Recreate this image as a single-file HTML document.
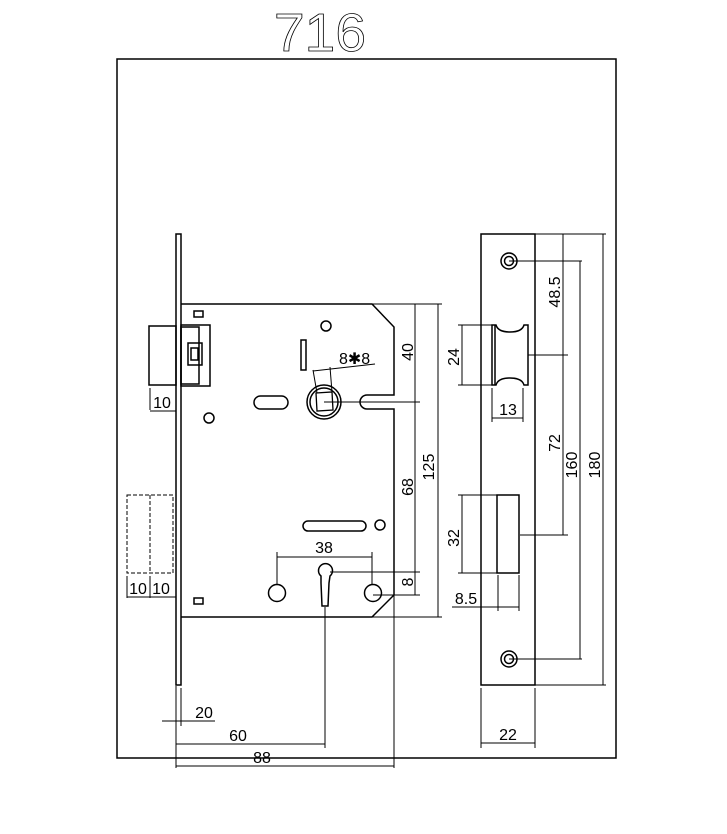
<!DOCTYPE html>
<html><head><meta charset="utf-8"><style>body{margin:0;background:#fff}svg{display:block}</style></head><body>
<svg width="727" height="834" viewBox="0 0 727 834" xmlns="http://www.w3.org/2000/svg" font-family="Liberation Sans, sans-serif">
<rect width="727" height="834" fill="#fff"/>
<text x="320" y="51" font-size="54" text-anchor="middle" fill="none" stroke="#000" stroke-width="0.8" textLength="92" lengthAdjust="spacingAndGlyphs">716</text>
<g fill="none" stroke="#000" stroke-width="1.5">
<rect x="117" y="59" width="499" height="699"/>
<rect x="176" y="234" width="5" height="451"/>
<path d="M181 304 H372 L394 327 V395 H367 A7 7 0 0 0 367 409 H394 V595 L372 617 H181"/>
<rect x="149" y="326" width="27" height="59"/>
<rect x="181" y="325" width="29" height="61"/>
<rect x="181" y="327" width="18" height="57"/>
<rect x="188" y="343" width="14" height="22"/>
<rect x="191" y="348" width="7" height="12"/>
<g stroke-dasharray="4 2" stroke-width="1">
<rect x="127" y="495" width="46" height="78"/>
<line x1="150" y1="495" x2="150" y2="573"/>
</g>
<rect x="194" y="311" width="9" height="6"/>
<rect x="194" y="598" width="9" height="6"/>
<circle cx="326" cy="326" r="5"/>
<circle cx="209" cy="418" r="5"/>
<circle cx="380" cy="525" r="5"/>
<rect x="301" y="340" width="5" height="30"/>
<rect x="254" y="396" width="34" height="13" rx="6.5"/>
<rect x="303" y="521" width="63" height="10" rx="5"/>
<circle cx="324" cy="402" r="17"/>
<circle cx="324" cy="402" r="14"/>
<path d="M316 393 L332 392 L333 410 L317 411 Z" stroke-width="1.3"/>
<circle cx="277" cy="593" r="8.5"/>
<circle cx="373" cy="593" r="8.5"/>
<path d="M321 576 A7 7 0 1 1 330 576 L329 583 L328 606 H322 L321 583 Z"/>
</g>
<g fill="none" stroke="#000" stroke-width="1">
<line x1="324" y1="402" x2="420" y2="402"/>
<line x1="317" y1="393" x2="313" y2="370"/><line x1="332" y1="392" x2="330" y2="367"/>
<line x1="313" y1="371" x2="375" y2="364"/>
<line x1="372" y1="304" x2="442" y2="304"/>
<line x1="372" y1="617" x2="442" y2="617"/>
<line x1="330" y1="572" x2="420" y2="572"/>
<line x1="373" y1="595" x2="420" y2="595"/>
<line x1="415" y1="304" x2="415" y2="595"/>
<line x1="438" y1="304" x2="438" y2="617"/>
<line x1="277" y1="585" x2="277" y2="552"/><line x1="372" y1="585" x2="372" y2="552"/>
<line x1="277" y1="557" x2="372" y2="557"/>
<line x1="150" y1="388" x2="150" y2="410"/><line x1="150" y1="411" x2="176" y2="411"/>
<line x1="127" y1="576" x2="127" y2="598"/><line x1="150" y1="576" x2="150" y2="598"/>
<line x1="127" y1="597" x2="176" y2="597"/>
<line x1="176" y1="686" x2="176" y2="768"/>
<line x1="181" y1="688" x2="181" y2="726"/>
<line x1="325" y1="607" x2="325" y2="748"/>
<line x1="394" y1="595" x2="394" y2="768"/>
<line x1="162" y1="721" x2="215" y2="721"/>
<line x1="176" y1="744" x2="325" y2="744"/>
<line x1="176" y1="766" x2="394" y2="766"/>
<rect x="481" y="234" width="54" height="451" stroke-width="1.5"/>
<circle cx="509" cy="261" r="8" stroke-width="1.5"/><circle cx="509" cy="261" r="4.5" stroke-width="1.5"/>
<circle cx="509" cy="659" r="8" stroke-width="1.5"/><circle cx="509" cy="659" r="4.5" stroke-width="1.5"/>
<line x1="509" y1="261" x2="582" y2="261"/><line x1="509" y1="659" x2="582" y2="659"/>
<path d="M492 325 V385 H496 Q498 378 510 378 Q522 378 524 385 H528 V325 H524 Q522 332 510 332 Q498 332 496 325 Z" stroke-width="1.5"/>
<line x1="495" y1="325" x2="495" y2="385" stroke-width="1.5"/>
<rect x="497" y="495" width="22" height="78" stroke-width="1.5"/>
<line x1="535" y1="234" x2="606" y2="234"/><line x1="535" y1="685" x2="606" y2="685"/>
<line x1="528" y1="355" x2="568" y2="355"/><line x1="520" y1="535" x2="568" y2="535"/>
<line x1="563" y1="234" x2="563" y2="535"/>
<line x1="580" y1="261" x2="580" y2="659"/>
<line x1="603" y1="234" x2="603" y2="685"/>
<line x1="458" y1="325" x2="492" y2="325"/><line x1="458" y1="385" x2="492" y2="385"/>
<line x1="462" y1="325" x2="462" y2="385"/>
<line x1="458" y1="495" x2="497" y2="495"/><line x1="458" y1="573" x2="497" y2="573"/>
<line x1="462" y1="495" x2="462" y2="573"/>
<line x1="492" y1="388" x2="492" y2="422"/><line x1="523" y1="388" x2="523" y2="422"/>
<line x1="492" y1="418" x2="523" y2="418"/>
<line x1="498" y1="575" x2="498" y2="611"/><line x1="519" y1="575" x2="519" y2="611"/>
<line x1="452" y1="607" x2="519" y2="607"/>
<line x1="481" y1="688" x2="481" y2="748"/><line x1="535" y1="688" x2="535" y2="748"/>
<line x1="481" y1="743" x2="535" y2="743"/>
</g>
<g font-size="16" fill="#000">
<text x="339" y="364">8✱8</text>
<text x="324" y="553" text-anchor="middle">38</text>
<text x="162" y="408" text-anchor="middle">10</text>
<text x="138" y="594" text-anchor="middle">10</text><text x="161" y="594" text-anchor="middle">10</text>
<text x="204" y="718" text-anchor="middle">20</text>
<text x="238" y="741" text-anchor="middle">60</text>
<text x="262" y="763" text-anchor="middle">88</text>
<text x="508" y="415" text-anchor="middle">13</text>
<text x="466" y="604" text-anchor="middle">8.5</text>
<text x="508" y="740" text-anchor="middle">22</text>
<text transform="translate(413,352) rotate(-90)" text-anchor="middle">40</text>
<text transform="translate(413,487) rotate(-90)" text-anchor="middle">68</text>
<text transform="translate(434,467) rotate(-90)" text-anchor="middle">125</text>
<text transform="translate(413,582) rotate(-90)" text-anchor="middle">8</text>
<text transform="translate(459,357) rotate(-90)" text-anchor="middle">24</text>
<text transform="translate(459,538) rotate(-90)" text-anchor="middle">32</text>
<text transform="translate(560,292) rotate(-90)" text-anchor="middle">48.5</text>
<text transform="translate(560,443) rotate(-90)" text-anchor="middle">72</text>
<text transform="translate(577,465) rotate(-90)" text-anchor="middle">160</text>
<text transform="translate(600,465) rotate(-90)" text-anchor="middle">180</text>
</g>
</svg>
</body></html>
